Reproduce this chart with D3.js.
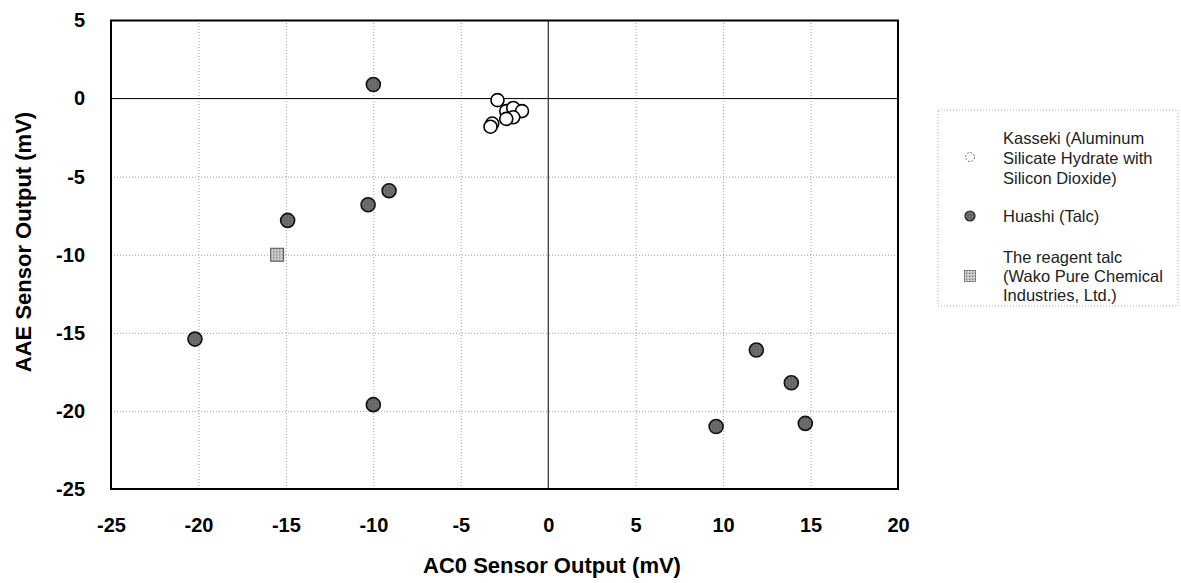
<!DOCTYPE html>
<html>
<head>
<meta charset="utf-8">
<script src="https://cdn.jsdelivr.net/npm/d3@7"></script>
<style>
  body { margin: 0; background: #fff; }
  text { font-family: "Liberation Sans", Arial, sans-serif; }
</style>
</head>
<body>
<div id="chart"></div>
<script>
// data
var kassekiX = [-2.9, -2.4, -2.0, -1.5, -2.0, -2.4, -3.2, -3.3];
var kassekiY = [-0.1, -0.8, -0.6, -0.8, -1.2, -1.3, -1.6, -1.8];
var huashiX = [-10.0, -9.1, -10.3, -14.9, -20.2, -10.0, 9.6, 11.9, 13.9, 14.7];
var huashiY = [0.9, -5.9, -6.8, -7.8, -15.4, -19.6, -21.0, -16.1, -18.2, -20.8];
var reagentX = [-15.5];
var reagentY = [-10.0];
var xTicks = [-25, -20, -15, -10, -5, 0, 5, 10, 15, 20];
var yTicks = [5, 0, -5, -10, -15, -20, -25];
var legendLines = [
  ["Kasseki (Aluminum", "Silicate Hydrate with", "Silicon Dioxide)"],
  ["Huashi (Talc)"],
  ["The reagent talc", "(Wako Pure Chemical", "Industries, Ltd.)"]
];

var margin = {top: 20.5, left: 111},
    width = 787, height = 468.5;

var svg = d3.select("#chart").append("svg")
  .attr("width", 1181).attr("height", 583);

var defs = svg.append("defs");
var pat = defs.append("pattern").attr("id", "speck")
  .attr("width", 3).attr("height", 3).attr("patternUnits", "userSpaceOnUse");
pat.append("rect").attr("width", 3).attr("height", 3).attr("fill", "#bdbdbd");
pat.append("rect").attr("width", 1).attr("height", 1).attr("fill", "#777");
pat.append("rect").attr("x", 2).attr("y", 1).attr("width", 1).attr("height", 1).attr("fill", "#eee");
var pat2 = defs.append("pattern").attr("id", "dot")
  .attr("width", 3).attr("height", 3).attr("patternUnits", "userSpaceOnUse");
pat2.append("rect").attr("width", 3).attr("height", 3).attr("fill", "#666");
pat2.append("rect").attr("width", 1).attr("height", 1).attr("fill", "#8a8a8a");

var x = d3.scaleLinear().domain([-25, 20]).range([0, width]);
var y = d3.scaleLinear().domain([-25, 5]).range([height, 0]);
var fmt = function(d){ return String(d); };   // plain hyphen, as in the picture

var g = svg.append("g")
  .attr("transform", "translate(" + margin.left + "," + margin.top + ")");

// dotted grid
g.append("g")
  .attr("transform", "translate(0," + height + ")")
  .call(d3.axisBottom(x).tickValues(xTicks.filter(function(d){ return d > -25 && d < 20 && d !== 0; }))
    .tickSize(-height).tickFormat(""))
  .call(function(s){ s.select(".domain").remove(); })
  .selectAll("line").attr("stroke", "#a0a0a0").attr("stroke-dasharray", "1,2");
g.append("g")
  .call(d3.axisLeft(y).tickValues(yTicks.filter(function(d){ return d > -25 && d < 5 && d !== 0; }))
    .tickSize(-width).tickFormat(""))
  .call(function(s){ s.select(".domain").remove(); })
  .selectAll("line").attr("stroke", "#a0a0a0").attr("stroke-dasharray", "1,2");

// zero lines
g.append("line").attr("x1", x(0)).attr("x2", x(0)).attr("y1", 0).attr("y2", height)
  .attr("stroke", "#000").attr("stroke-width", 1);
g.append("line").attr("x1", 0).attr("x2", width).attr("y1", y(0)).attr("y2", y(0))
  .attr("stroke", "#000").attr("stroke-width", 1);

g.append("rect").attr("width", width).attr("height", height)
  .attr("fill", "none").attr("stroke", "#000").attr("stroke-width", 2);

// tick labels
var xa = g.append("g")
  .attr("transform", "translate(0," + height + ")")
  .call(d3.axisBottom(x).tickValues(xTicks).tickFormat(fmt).tickSize(0).tickPadding(29));
xa.select(".domain").remove();
xa.selectAll("text").attr("font-size", "20px").attr("font-weight", "bold")
  .attr("font-family", "Liberation Sans, Arial, sans-serif").attr("fill", "#000");

var ya = g.append("g")
  .call(d3.axisLeft(y).tickValues(yTicks).tickFormat(fmt).tickSize(0).tickPadding(26));
ya.select(".domain").remove();
ya.selectAll("text").attr("font-size", "20px").attr("font-weight", "bold")
  .attr("font-family", "Liberation Sans, Arial, sans-serif").attr("fill", "#000");

// axis titles
svg.append("text").attr("x", 552).attr("y", 573).attr("text-anchor", "middle")
  .attr("font-size", "22px").attr("font-weight", "bold").text("AC0 Sensor Output (mV)");
svg.append("text").attr("transform", "translate(31,242) rotate(-90)")
  .attr("text-anchor", "middle")
  .attr("font-size", "22px").attr("font-weight", "bold").text("AAE Sensor Output (mV)");

// points
g.selectAll(".huashi").data(d3.range(huashiX.length)).enter().append("circle")
  .attr("class", "huashi")
  .attr("cx", function(i){ return x(huashiX[i]); })
  .attr("cy", function(i){ return y(huashiY[i]); })
  .attr("r", 7).attr("fill", "url(#dot)").attr("stroke", "#111").attr("stroke-width", 1.6);

g.selectAll(".reagent").data(d3.range(reagentX.length)).enter().append("rect")
  .attr("class", "reagent")
  .attr("x", function(i){ return x(reagentX[i]) - 6.5; })
  .attr("y", function(i){ return y(reagentY[i]) - 6.5; })
  .attr("width", 13).attr("height", 13)
  .attr("fill", "url(#speck)").attr("stroke", "#555").attr("stroke-width", 1);

g.selectAll(".kasseki").data(d3.range(kassekiX.length)).enter().append("circle")
  .attr("class", "kasseki")
  .attr("cx", function(i){ return x(kassekiX[i]); })
  .attr("cy", function(i){ return y(kassekiY[i]); })
  .attr("r", 6.5).attr("fill", "#fff").attr("stroke", "#000").attr("stroke-width", 1.6);

// legend
var lg = svg.append("g");
lg.append("rect").attr("x", 938).attr("y", 110).attr("width", 240).attr("height", 196)
  .attr("fill", "none").attr("stroke", "#aaa").attr("stroke-width", 1).attr("stroke-dasharray", "1,2");

var lineY = [[138, 158, 178], [216.5], [257, 276, 295]];
legendLines.forEach(function(lines, k){
  lines.forEach(function(t, j){
    lg.append("text").attr("x", 1003).attr("y", lineY[k][j]).attr("dy", "0.35em")
      .attr("font-size", "16.5px").attr("fill", "#222").text(t);
  });
});
lg.append("circle").attr("cx", 970).attr("cy", 157).attr("r", 4.5)
  .attr("fill", "#fff").attr("stroke", "#777").attr("stroke-width", 1).attr("stroke-dasharray", "2,1.5");
lg.append("circle").attr("cx", 970).attr("cy", 216).attr("r", 5)
  .attr("fill", "url(#dot)").attr("stroke", "#222").attr("stroke-width", 1.2);
lg.append("rect").attr("x", 964.5).attr("y", 270.5).attr("width", 11).attr("height", 11)
  .attr("fill", "url(#speck)").attr("stroke", "#666").attr("stroke-width", 0.8);
</script>
</body>
</html>
